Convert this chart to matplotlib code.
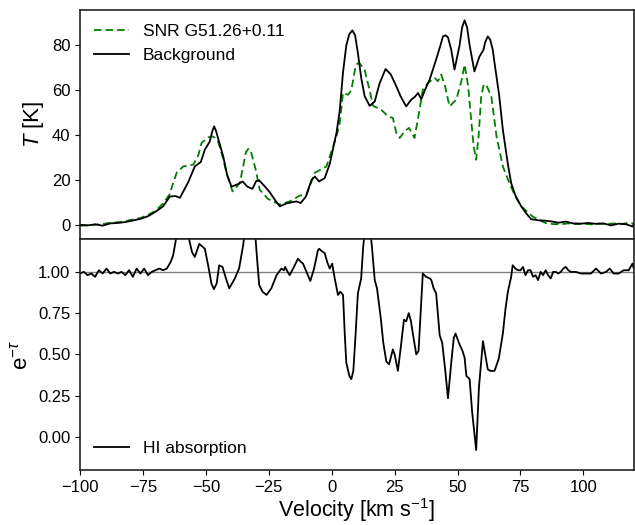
import matplotlib
matplotlib.use("Agg")
import matplotlib.pyplot as plt

plt.rcParams['font.family'] = ['Liberation Sans', 'DejaVu Sans']
plt.rcParams['mathtext.fontset'] = 'custom'
plt.rcParams['mathtext.rm'] = 'Liberation Sans'
plt.rcParams['mathtext.it'] = 'Liberation Sans:italic'

# Background spectrum (black)
v_bg = [-100, -97, -94, -91, -88, -85, -82, -79, -76, -73, -70, -67, -64.3, -62, -60.3,
        -57, -54.4, -52, -50.4, -48.5, -47.5, -46.7, -46, -45, -43.1, -41.5, -39.8, -37.5, -35.4,
        -33.5, -31.5, -30, -28.8, -26.5, -24.6, -22.5, -20.6, -18, -16, -14, -12.3,
        -10.3, -8, -6.7, -5, -2.8, -0.8, 1.9, 3.2, 4.5, 5.8, 7.0, 8.2, 9.3, 10.4, 11.8, 13.1, 15.1, 17.1, 19,
        21.4, 23.5, 25.7, 27.5, 29.6, 31.6, 33, 34.3, 35.6, 37, 38.9, 41.5, 43.2, 44.2, 45.2,
        46.2, 47.5, 48.8, 50.8, 51.8, 52.8, 53.8, 54.8, 56.7, 58.7, 60.3, 61, 62, 63, 64, 64.7, 66.5, 68,
        70, 71.3, 73, 75.3, 77, 79.2, 82, 85, 87.8, 90, 93, 96, 99, 102, 105, 108, 111,
        114, 117, 119.6, 120]
t_bg = [0.0, -0.3, 0.2, -0.4, 0.6, 0.8, 1.2, 1.9, 2.6, 3.8, 5.8, 8.2, 12.6, 12.8, 12.0,
        19, 26, 28, 33.5, 37, 41.5, 43.9, 42, 38, 30.5, 22, 17, 18, 19.3,
        17, 16, 19.5, 19.8, 17, 14.5, 11, 8.2, 9.5, 10, 10.4, 9.7,
        12.5, 20, 21.5, 19.3, 20.8, 27, 41, 51, 68, 80, 85, 86.7, 84.5, 76.6, 65, 57.3, 53, 55, 63,
        69.5, 67, 61.7, 57, 52.8, 55.8, 57, 58.8, 56, 60, 64.7, 73.7, 80, 84, 84.5,
        83.6, 78, 69.2, 80, 88, 91.2, 88, 80, 68.4, 75, 78, 81.5, 84, 82.5, 78, 72.2, 58, 42.4,
        27, 18.6, 13, 8.2, 5.5, 2.5, 2.0, 1.8, 1.4, 0.9, 1.4, 0.6, 0.5, 0.8, 0.4, 0.6, -0.3,
        0.5, 0.2, -0.8, 0.3]

# SNR spectrum (green dashed)
v_snr = [-100, -97, -94, -91, -88, -85, -82, -79, -76, -73, -70, -67, -64.5, -61.6, -59,
         -55, -53, -51.7, -49, -47.1, -45.1, -43.5, -41.8, -39.4, -36.5, -35.2, -34.1, -33.2, -32.3,
         -30.2, -28.6, -25.3, -20.6, -16.7, -12.7, -10, -6.7, -4.5, -2.1, 0, 1.9, 3.2,
         4.5, 6.5, 7.8, 9.5, 10.3, 11.1, 13.1, 15.1, 16.4, 19.7, 22.3, 24.3, 25.7, 27, 29, 30.7,
         32.9, 34.9, 36.2, 38.2, 40.9, 42.2, 43.5, 45, 46.8, 49.5, 51.5, 52.8, 54.2, 55.4,
         56.4, 57.4, 58.4, 59.4, 60.4, 61.4, 63.4, 65.5, 68, 70.6, 73, 75.3, 79.8, 85.1, 88, 91, 94, 97, 100,
         103, 106, 109, 112, 115, 118, 120]
t_snr = [-0.5, -0.2, 0.0, 0.3, 0.9, 1.1, 1.6, 2.3, 3.0, 4.4, 6.2, 9.5, 13.4, 23.2, 26,
         26.8, 31, 36.5, 39, 39.4, 37, 31, 23.2, 14.9, 18.6, 26, 32.3, 33.8, 33.5,
         24.6, 15.6, 11.5, 9, 10.4, 13, 13.4, 23.2, 24.5, 26, 33, 39.4, 45.4,
         58.8, 58, 60, 70.7, 72, 72, 69, 59.8, 53.1, 51.3, 48.4, 47.6, 40.9, 38.7, 41.7, 43.2,
         38.7, 51.3, 60.2, 63.2, 65.5, 64, 67, 62, 52.8, 55.8, 64, 71.4, 62, 46.9,
         35, 29, 40, 57.3, 62.5, 62.5, 57.3, 39.4, 26, 18.6, 12.5, 8.2, 3.7, 0.7, 0.3, 0.2, 0.6, 0.3, 0.4,
         0.2, 0.5, 0.3, 0.6, 0.3, 0.8, 0.5]

# HI absorption e^-tau
v_abs = [-100, -98.5, -97, -95.5, -94, -92.5, -91, -89.5, -88, -86.5, -85, -83.5, -82,
         -80.5, -79, -77.5, -76, -74.5, -73, -71.5, -70, -68.5, -67, -65.5, -64, -63,
         -61.6, -60, -58, -57, -55.5, -54.4, -52.6, -50.4, -49.1, -47.8, -46.8, -45.7,
         -44.7, -43.4, -42, -40.7, -38.5, -36.8, -35.2, -34, -32, -30.5, -29.5, -28.8,
         -27.5, -25.9, -24, -21.9, -20, -19, -18.5, -17.5, -16.7, -15, -13.4, -12.2,
         -11.4, -10, -8.5, -7, -5.5, -5, -3.5, -2.8, -1.8, -0.8, 0.2, 1.2, 2.5, 3.4, 4.5,
         5.2, 5.8, 7.0, 7.8, 8.6, 9.6, 10.4, 11.7, 12.5, 13.5, 15, 16, 17.1, 18, 19.5,
         20.5, 21.7, 22.8, 24.3, 25, 26.3, 27.5, 28.7, 29.6, 30.6, 31.5, 32.3, 33.6, 34.5,
         35.5, 36.2, 37.5, 39, 39.6, 40.5, 41.5, 42.9, 43.9, 45, 46.2, 47.5, 48.5, 49.2,
         50.8, 52, 52.8, 53.5, 54.8, 55.8, 57.4, 58.5, 60.1, 61, 62, 63, 64.7, 66.4, 67.3,
         68, 69, 70, 71.3, 71.9, 73, 74, 75, 76, 77, 78, 79, 80, 81, 82, 83, 84, 85, 86,
         87, 88, 89, 90, 91, 92, 93, 94, 95, 97, 99, 101, 103, 105, 107, 109, 110.5, 112,
         114, 116, 118, 119.5, 120]
e_abs = [0.99, 1.00, 0.98, 0.99, 0.97, 1.01, 0.99, 1.02, 0.99, 1.00, 0.99, 1.00, 0.98,
         1.01, 0.97, 1.02, 0.99, 1.02, 0.98, 1.00, 1.01, 1.02, 1.01, 1.02, 1.06, 1.10,
         1.22, 1.32, 1.30, 1.22, 1.12, 1.09, 1.17, 1.14, 1.04, 0.93, 0.895, 0.93,
         1.04, 1.03, 0.96, 0.90, 0.96, 1.02, 1.16, 1.30, 1.35, 1.25, 1.05, 0.92,
         0.88, 0.86, 0.90, 0.98, 1.02, 1.01, 1.03, 1.00, 0.98, 1.03, 1.08, 1.06,
         1.05, 1.00, 0.945, 1.02, 1.13, 1.14, 1.12, 1.115, 1.06, 1.02, 1.05, 0.96, 0.86, 0.88, 0.86,
         0.62, 0.45, 0.37, 0.35, 0.40, 0.65, 0.87, 0.96, 1.15, 1.30, 1.30, 1.15, 0.95, 0.90, 0.72,
         0.57, 0.457, 0.44, 0.53, 0.50, 0.40, 0.55, 0.71, 0.70, 0.75, 0.70, 0.62, 0.50, 0.52,
         0.80, 0.99, 0.97, 0.96, 0.95, 0.90, 0.87, 0.616, 0.57, 0.42, 0.234, 0.45, 0.60, 0.626,
         0.56, 0.52, 0.48, 0.37, 0.35, 0.15, -0.08, 0.30, 0.58, 0.50, 0.41, 0.40, 0.40, 0.475, 0.56,
         0.626, 0.77, 0.88, 0.97, 1.04, 1.02, 1.01, 1.01, 1.03, 0.98, 1.01, 1.01, 0.97, 0.98, 0.95, 1.00, 0.98, 1.01, 0.98,
         0.96, 1.00, 1.00, 0.99, 1.00, 1.02, 1.03, 1.01, 1.00, 1.00, 0.99, 0.99, 0.99, 1.02, 0.99, 1.00, 1.02, 0.99,
         0.99, 1.01, 1.01, 1.05, 1.02]

fig = plt.figure(figsize=(6.35, 5.25), dpi=100)
ax1 = fig.add_axes([0.126, 0.545, 0.872, 0.436])
ax2 = fig.add_axes([0.126, 0.105, 0.872, 0.440], sharex=ax1)

ax1.plot(v_snr, t_snr, color='green', ls=(0, (4.2, 2.2)), lw=1.3, label='SNR G51.26+0.11')
ax1.plot(v_bg, t_bg, color='black', lw=1.3, label='Background')
ax1.set_ylim(-6.3, 95.8)
ax1.set_ylabel('$T$ [K]', fontsize=16)
ax1.legend(loc='upper left', frameon=False, fontsize=12.5, handlelength=2.0,
           borderaxespad=0.4)
ax1.tick_params(axis='x', bottom=False, labelbottom=False)

ax2.axhline(1.0, color='gray', lw=1.0)
ax2.plot(v_abs, e_abs, color='black', lw=1.3, label='HI absorption')
ax2.set_ylim(-0.2, 1.2)
ax2.set_yticks([0.0, 0.25, 0.5, 0.75, 1.0])
ax2.set_xlim(-100, 120)
ax2.set_xticks([-100, -75, -50, -25, 0, 25, 50, 75, 100])
ax2.set_ylabel(r'e$^{-\tau}$', fontsize=16)
ax2.set_xlabel('Velocity [km s$^{-1}$]', fontsize=15.5, labelpad=1)
ax2.legend(loc='lower left', frameon=False, fontsize=12.5, handlelength=2.0,
           borderaxespad=0.4)

for ax in (ax1, ax2):
    ax.tick_params(axis='both', labelsize=12, direction='out')
    for s in ax.spines.values():
        s.set_linewidth(1.2)
        s.set_color('#222222')

fig.savefig('out.png', dpi=100)
